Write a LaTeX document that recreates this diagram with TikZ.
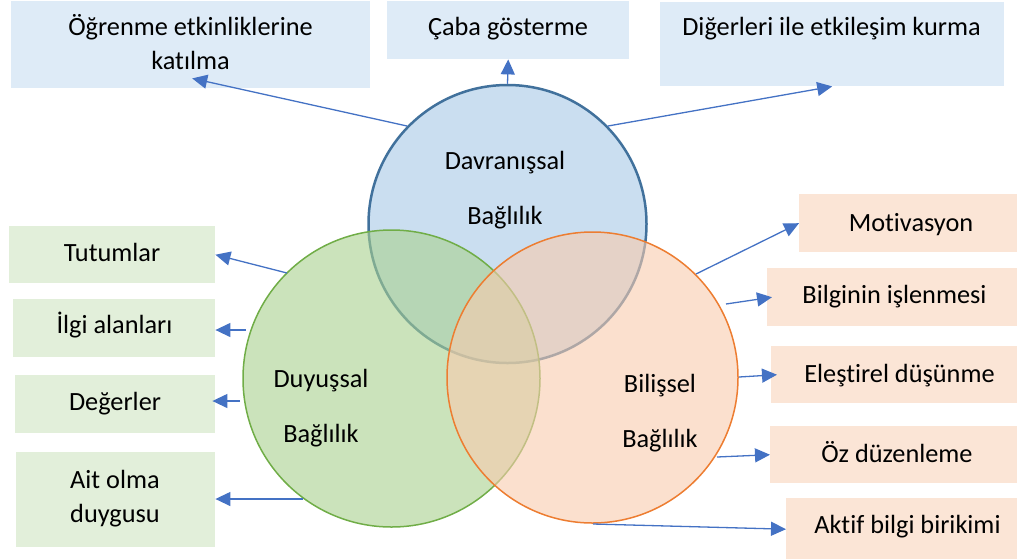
\documentclass[tikz,border=0pt]{standalone}
\usepackage{fontspec}
\setmainfont{Carlito}[Ligatures=NoCommon]
\usetikzlibrary{arrows.meta,calc}
\definecolor{bluebox}{HTML}{DEEBF7}
\definecolor{greenbox}{HTML}{E2EFDA}
\definecolor{orangebox}{HTML}{FBE5D6}
\definecolor{bluefill}{HTML}{CADEF0}
\definecolor{blueline}{HTML}{41719C}
\definecolor{greenfill}{HTML}{A9D18E}
\definecolor{greenline}{HTML}{70AD47}
\definecolor{orangefill}{HTML}{F8CBAD}
\definecolor{orangeline}{HTML}{ED7D31}
\definecolor{arrowblue}{HTML}{4472C4}
\tikzset{
  boxbase/.style={rectangle, inner sep=0pt, anchor=north west, draw=none},
  bbox/.style={boxbase, fill=bluebox},
  gbox/.style={boxbase, fill=greenbox},
  obox/.style={boxbase, fill=orangebox},
  lbl/.style={font=\fontsize{26.3}{34}\selectfont, inner sep=0pt, anchor=base, align=center, text=black},
  clbl/.style={font=\fontsize{26.3}{55}\selectfont, inner sep=0pt, anchor=base, align=center, text=black},
  arr/.style={draw=arrowblue, line width=1.3pt, -{Triangle[length=15pt,width=14pt]}},
  venn/.style={circle, inner sep=0pt, minimum size=#1},
}
\begin{document}
\begin{tikzpicture}[x=1pt,y=-1pt]
\useasboundingbox (0,0) rectangle (1017,558);
\clip (0,0) rectangle (1017,558);
% boxes
\node[bbox, minimum width=359pt, minimum height=87pt] (b1) at (11,1) {};
\node[bbox, minimum width=242pt, minimum height=58pt] (b2) at (387,1) {};
\node[bbox, minimum width=344pt, minimum height=84pt] (b3) at (660,2) {};
\node[gbox, minimum width=206pt, minimum height=57pt] (tut) at (9,226) {};
\node[gbox, minimum width=202pt, minimum height=58pt] (ilg) at (13,299) {};
\node[gbox, minimum width=200pt, minimum height=58pt] (deg) at (15,375) {};
\node[gbox, minimum width=199pt, minimum height=95pt] (ait) at (16,452) {};
\node[obox, minimum width=224pt, minimum height=58pt] (mot) at (799,194) {};
\node[obox, minimum width=255pt, minimum height=58pt] (bil) at (767,268) {};
\node[obox, minimum width=257pt, minimum height=57pt] (ele) at (771,346) {};
\node[obox, minimum width=254pt, minimum height=57pt] (oz) at (770,426) {};
\node[obox, minimum width=243pt, minimum height=62pt] (akt) at (786,498) {};
% box texts
\node[lbl] (tb1) at (190.5,69) {Öğrenme etkinliklerine\\katılma};
\node[lbl] (tb2) at (508,35) {Çaba gösterme};
\node[lbl] (tb3) at (831.5,35) {Diğerleri ile etkileşim kurma};
\node[lbl] (ttut) at (112,261) {Tutumlar};
\node[lbl] (tilg) at (114.5,333) {İlgi alanları};
\node[lbl] (tdeg) at (115,410) {Değerler};
\node[lbl] (tait) at (115,522) {Ait olma\\duygusu};
\node[lbl] (tmot) at (911,231) {Motivasyon};
\node[lbl] (tbil) at (894.5,303) {Bilginin işlenmesi};
\node[lbl] (tele) at (899.5,382) {Eleştirel düşünme};
\node[lbl] (toz) at (897,462) {Öz düzenleme};
\node[lbl] (takt) at (907.5,533) {Aktif bilgi birikimi};
% circles
\node[venn=278pt, fill=bluefill, draw=blueline, line width=2.5pt] (dav) at (507.5,224) {};
\node[venn=297pt, fill=greenfill, fill opacity=0.6, draw=greenline, line width=1.5pt] (duy) at (391.5,378.5) {};
\node[venn=291pt, fill=orangefill, fill opacity=0.6, draw=orangeline, line width=1.5pt] (bls) at (592.5,377.5) {};
% circle texts
\node[clbl] (tdav) at (505,224) {Davranışsal\\Bağlılık};
\node[clbl] (tduy) at (321,442) {Duyuşsal\\Bağlılık};
\node[clbl] (tbs) at (660,447) {Bilişsel\\Bağlılık};
% start points
\coordinate (s1) at (407,126);
\coordinate (s3) at (608,126);
\coordinate (g1) at (287,273);
\coordinate (g2) at (246,330);
\coordinate (g3) at (240,401);
\coordinate (g4) at (303,499);
\coordinate (o1) at (696,274);
\coordinate (o2) at (726,304);
\coordinate (o3) at (739,377);
\coordinate (o4) at (717,457);
\coordinate (o5) at (593,524);
% arrows
\draw[arr] (s1) -- ($(b1.south)+(1.5,-10)$);
\draw[arr] (dav.north) -- (b2.south);
\draw[arr] (s3) -- (b3.south);
\draw[arr] (g1) -- (tut.east);
\draw[arr] (g2) -- (g2 -| ilg.east);
\draw[arr] (g3) -- ($(g3 -| deg.east)+(-3,0)$);
\draw[arr] (g4) -- (g4 -| ait.east);
\draw[arr] (o1) -- (mot.west);
\draw[arr] (o2) -- ($(bil.west)+(5,0)$);
\draw[arr] (o3) -- ($(ele.west)+(6,0)$);
\draw[arr] (o4) -- (oz.west);
\draw[arr] (o5) -- (akt.west);
\end{tikzpicture}
\end{document}
